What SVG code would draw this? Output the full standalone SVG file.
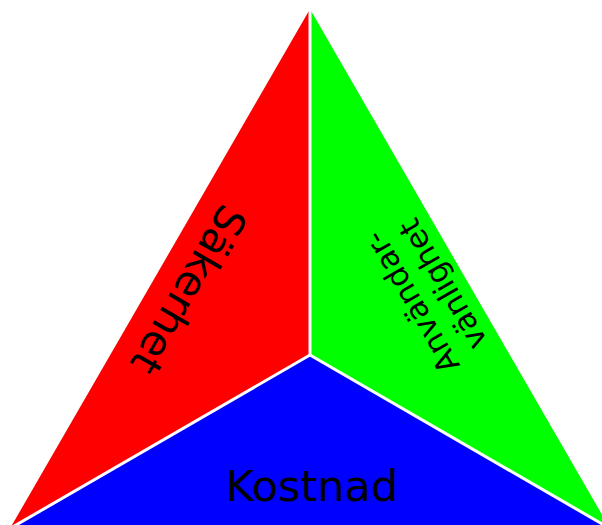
<svg xmlns="http://www.w3.org/2000/svg" width="602" height="525" viewBox="0 0 602 525">
<style>
.lbl{font-family:"DejaVu Sans",sans-serif;fill:#000;text-anchor:middle}
.sep{stroke:#fff;stroke-width:3;fill:none}
</style>
<rect width="602" height="525" fill="#fff"/>
<g id="sakerhet">
<polygon points="310,9 310,355 10,528.5" fill="#ff0000"/>
<text class="lbl" font-size="42" transform="translate(189,290) rotate(120)" dy="0.36em">Säkerhet</text>
</g>
<g id="anvandarvanlighet">
<polygon points="310,9 610,528.5 310,355" fill="#00ff00"/>
<text class="lbl" font-size="31" transform="translate(426,294) rotate(-120)"><tspan x="0" y="-6">Användar-</tspan><tspan x="0" y="30">vänlighet</tspan></text>
</g>
<g id="kostnad">
<polygon points="310,355 610,528.5 10,528.5" fill="#0000ff"/>
<text class="lbl" font-size="43" x="312" y="501">Kostnad</text>
</g>
<g id="connectors">
<line class="sep" x1="310" y1="9" x2="310" y2="355"/>
<line class="sep" x1="310" y1="355" x2="10" y2="528.5"/>
<line class="sep" x1="310" y1="355" x2="610" y2="528.5"/>
</g>
</svg>
